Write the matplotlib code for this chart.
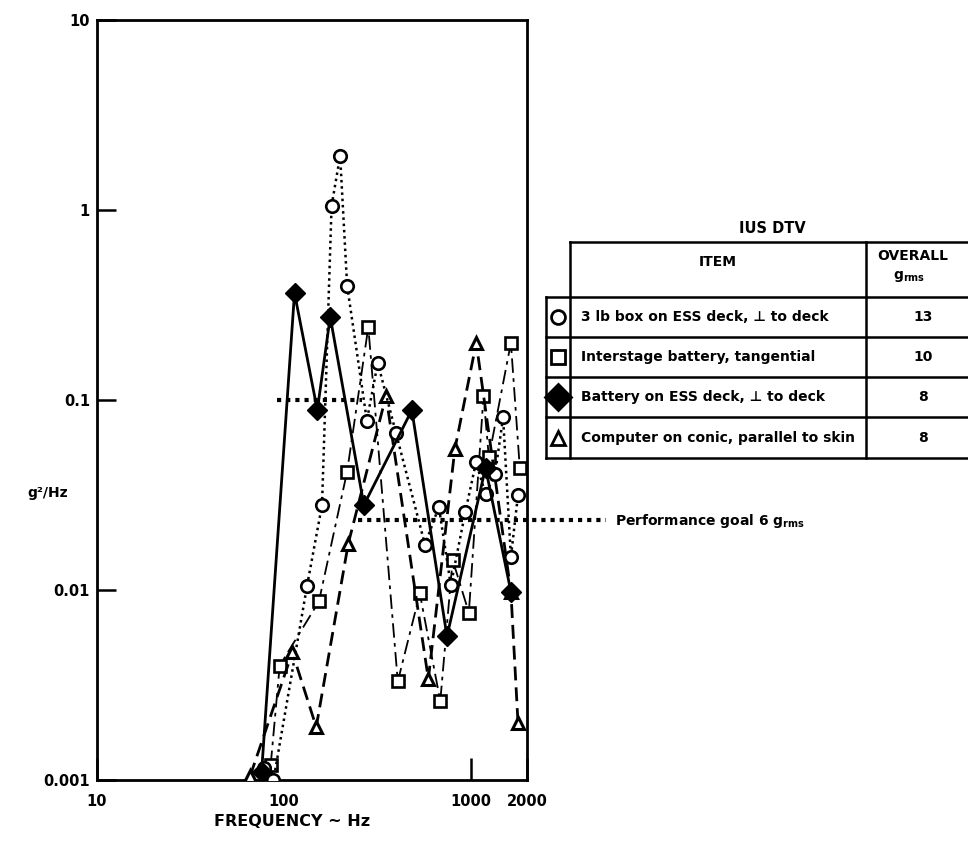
import matplotlib
matplotlib.use("Agg")
import matplotlib.pyplot as plt
from matplotlib.ticker import NullLocator

plt.rcParams['font.family'] = ['DejaVu Sans']
plt.rcParams['font.weight'] = 'bold'
plt.rcParams['mathtext.fontset'] = 'dejavusans'

# 3 lb box on ESS deck, perpendicular to deck (circles, dotted)
box_freq = [78, 88, 133, 160, 180, 200, 218, 278, 318, 398, 569, 675, 782, 935, 1067, 1200, 1350, 1490, 1640, 1790]
box_psd = [0.00115, 0.00100, 0.0105, 0.028, 1.05, 1.93, 0.40, 0.078, 0.157, 0.067, 0.0173, 0.0274,
           0.0106, 0.0257, 0.047, 0.032, 0.041, 0.081, 0.0149, 0.0316]

# interstage battery, tangential (squares)
bat_freq = [85, 95, 154, 218, 283, 407, 534, 687, 800, 977, 1170, 1250, 1640, 1830]
bat_psd = [0.0012, 0.0040, 0.0087, 0.042, 0.242, 0.0033, 0.0096, 0.0026, 0.0144, 0.0076, 0.105,
           0.050, 0.20, 0.044]

# battery on ESS deck, perpendicular to deck (filled diamonds, solid)
ess_freq = [76, 114, 151, 177, 268, 484, 746, 1200, 1640]
ess_psd = [0.0011, 0.366, 0.0885, 0.274, 0.028, 0.0885, 0.0057, 0.044, 0.0098]

# computer on conic, parallel to skin (triangles, dashed)
cpu_freq = [66, 111, 149, 221, 352, 593, 822, 1070, 1640, 1790]
cpu_psd = [0.00105, 0.0047, 0.0019, 0.0175, 0.105, 0.0034, 0.055, 0.20, 0.0098, 0.0020]

# performance goal (6 g rms)
goal_hi_freq = [92, 262]
goal_hi_psd = [0.1, 0.1]
goal_lo_freq = [250, 5300]
goal_lo_psd = [0.0233, 0.0233]

x_ticks = [10, 100, 1000, 2000]
x_labels = ['10', '100', '1000', '2000']
y_ticks = [0.001, 0.01, 0.1, 1, 10]
y_labels = ['0.001', '0.01', '0.1', '1', '10']

table_items = ['3 lb box on ESS deck, \u22a5 to deck',
               'Interstage battery, tangential',
               'Battery on ESS deck, \u22a5 to deck',
               'Computer on conic, parallel to skin']
table_overall = ['13', '10', '8', '8']
table_markers = ['o', 's', 'D', '^']
table_fill = ['white', 'white', 'black', 'white']

W, H = 968, 841
fig = plt.figure(figsize=(W / 100, H / 100), dpi=100)

# overlay in pixel coordinates for the table and free text
ov = fig.add_axes([0, 0, 1, 1], zorder=-1)
ov.set_xlim(0, W)
ov.set_ylim(H, 0)
ov.axis('off')

ax = fig.add_axes([97 / W, 1 - 780 / H, 430 / W, 760 / H])
ax.set_xscale('log')
ax.set_yscale('log')
ax.set_xlim(10, 2000)
ax.set_ylim(0.001, 10)

ax.plot(goal_hi_freq, goal_hi_psd, color='black', lw=3, ls=(0, (1, 1.2)), zorder=2)
ax.plot(goal_lo_freq, goal_lo_psd, color='black', lw=3, ls=(0, (1, 1.2)), zorder=2, clip_on=False)

ax.plot(bat_freq, bat_psd, color='black', lw=1.3, ls=(0, (8, 3, 2, 3)),
        marker='s', ms=8.5, mew=1.9, mfc='white', mec='black', zorder=3)
ax.plot(cpu_freq, cpu_psd, color='black', lw=2, ls=(0, (5, 2.5)),
        marker='^', ms=9, mew=2.2, mfc='white', mec='black', zorder=3)
ax.plot(box_freq, box_psd, color='black', lw=1.8, ls=(0, (1, 1.5)),
        marker='o', ms=9, mew=1.9, mfc='white', mec='black', zorder=4)
ax.plot(ess_freq, ess_psd, color='black', lw=2, ls='-',
        marker='D', ms=10.5, mfc='black', mec='black', zorder=5)

ax.set_xticks(x_ticks)
ax.set_xticklabels(x_labels)
ax.set_yticks(y_ticks)
ax.set_yticklabels(y_labels)
ax.xaxis.set_minor_locator(NullLocator())
ax.yaxis.set_minor_locator(NullLocator())
ax.tick_params(axis='x', direction='in', length=16, width=1.8, labelsize=10.5, pad=10)
ax.tick_params(axis='y', direction='in', length=14, width=1.8, labelsize=10.5, pad=5)
ax.xaxis.get_major_ticks()[1].tick1line.set_visible(False)
for s in ax.spines.values():
    s.set_linewidth(2)

fig.text(292 / W, 1 - 822 / H, 'FREQUENCY ~ Hz', ha='center', va='center', fontsize=11.5)
fig.text(48 / W, 1 - 493 / H, 'g\u00b2/Hz', ha='center', va='center', fontsize=10)

# table
lw = 1.8
ov.text(772, 228, 'IUS DTV', ha='center', va='center', fontsize=10.5)
ov.plot([570, 990], [242, 242], color='black', lw=lw)
ov.plot([546, 990], [297, 297], color='black', lw=lw)
rows = [297, 337, 377, 417, 458]
for y in rows[1:]:
    ov.plot([546, 990], [y, y], color='black', lw=lw)
ov.plot([570, 570], [242, 458], color='black', lw=lw)
ov.plot([546, 546], [297, 458], color='black', lw=lw)
ov.plot([866, 866], [242, 458], color='black', lw=lw)
ov.text(718, 262, 'ITEM', ha='center', va='center', fontsize=10)
ov.text(877, 256, 'OVERALL', ha='left', va='center', fontsize=10)
ov.text(893, 276, 'g$_{\\mathbf{rms}}$', ha='left', va='center', fontsize=10)
for i in range(4):
    yc = (rows[i] + rows[i + 1]) / 2
    ov.text(581, yc, table_items[i], ha='left', va='center', fontsize=10)
    ov.text(923, yc, table_overall[i], ha='center', va='center', fontsize=10)
    ov.plot([558], [yc], marker=table_markers[i], ms=10 if i != 2 else 13, mew=2,
            mfc=table_fill[i], mec='black', color='black')

ov.text(615, 521, 'Performance goal 6 g$_{\\mathbf{rms}}$', ha='left', va='center', fontsize=10)

fig.savefig('out.png', dpi=100)
